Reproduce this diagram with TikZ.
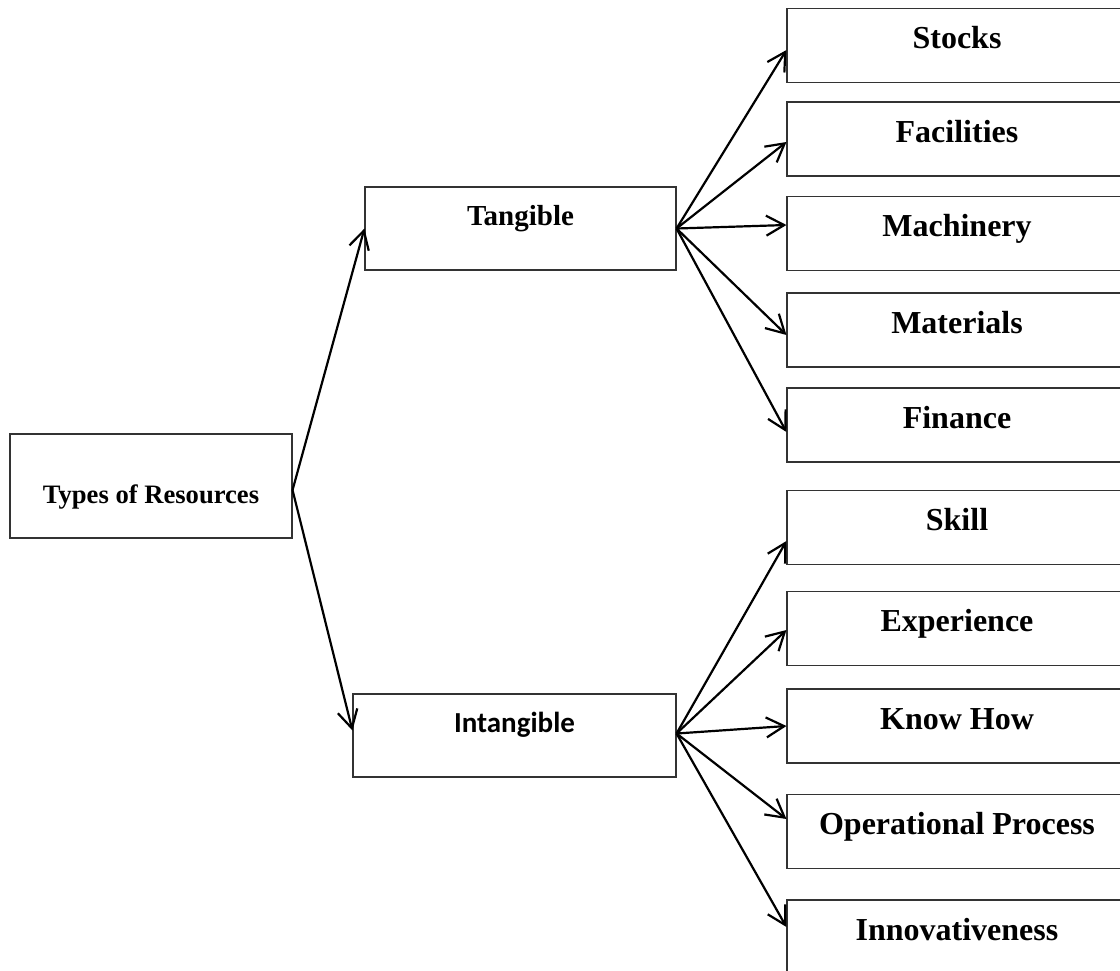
\documentclass[tikz,border=0pt]{standalone}
\usepackage{fontspec}
\setmainfont{Liberation Serif}
\newfontfamily\carlitofont{Carlito}
\usetikzlibrary{arrows.meta}
\tikzset{
  box/.style={draw=black!80, line width=1.1pt, rectangle, inner sep=0pt, fill=white},
  leaf/.style={box, minimum width=340pt, minimum height=74pt, text height=22pt, text depth=16pt,
    font=\fontsize{32}{36}\selectfont\bfseries},
  conn/.style={line width=2.2pt, -{Straight Barb[length=18pt,width=20pt,line width=2.2pt,line join=miter]}}
}
\begin{document}
\begin{tikzpicture}[x=1pt,y=-1pt]
\useasboundingbox (0,0) rectangle (1120,970);
\clip (0,0) rectangle (1120,970);
\fill[white] (0,0) rectangle (1120,970);
% main nodes
\node[box, minimum width=282pt, minimum height=104pt, text height=34pt, text depth=0pt,
  font=\fontsize{26.6}{30}\selectfont\bfseries] (types) at (151,486) {Types of Resources};
\node[box, minimum width=311pt, minimum height=83pt, text height=20pt, text depth=27pt,
  font=\fontsize{29}{33}\selectfont\bfseries] (tang) at (520.5,228.5) {Tangible};
\node[box, minimum width=323pt, minimum height=83pt, text height=20pt, text depth=26pt,
  font=\fontsize{29}{33}\carlitofont\bfseries] (intang) at (514.5,735.5) {Intangible};
% leaves
\node[leaf] (stocks) at (957,45.5) {Stocks};
\node[leaf] (facil) at (957,139) {Facilities};
\node[leaf] (mach) at (957,233.5) {Machinery};
\node[leaf] (mater) at (957,330) {Materials};
\node[leaf] (fin) at (957,425) {Finance};
\node[leaf] (skill) at (957,527.5) {Skill};
\node[leaf] (exper) at (957,628.5) {Experience};
\node[leaf] (know) at (957,726) {Know How};
\node[leaf] (oper) at (957,831.5) {Operational Process};
\node[leaf] (innov) at (957,937) {Innovativeness};
% connectors
\draw[conn] ([yshift=-4pt]types.east) -- (tang.west);
\draw[conn] ([yshift=-4pt]types.east) -- ([yshift=5pt]intang.west);
\draw[conn] (tang.east) -- ([yshift=-4.5pt]stocks.west);
\draw[conn] (tang.east) -- ([yshift=-3pt]facil.west);
\draw[conn] (tang.east) -- ([yshift=8.5pt]mach.west);
\draw[conn] (tang.east) -- ([yshift=-5pt]mater.west);
\draw[conn] (tang.east) -- ([yshift=-7pt]fin.west);
\draw[conn] ([yshift=2pt]intang.east) -- ([yshift=-13.5pt]skill.west);
\draw[conn] ([yshift=2pt]intang.east) -- ([yshift=-1.5pt]exper.west);
\draw[conn] ([yshift=2pt]intang.east) -- ([yshift=0pt]know.west);
\draw[conn] ([yshift=2pt]intang.east) -- ([yshift=12.5pt]oper.west);
\draw[conn] ([yshift=2pt]intang.east) -- ([yshift=10pt]innov.west);
\end{tikzpicture}
\end{document}
